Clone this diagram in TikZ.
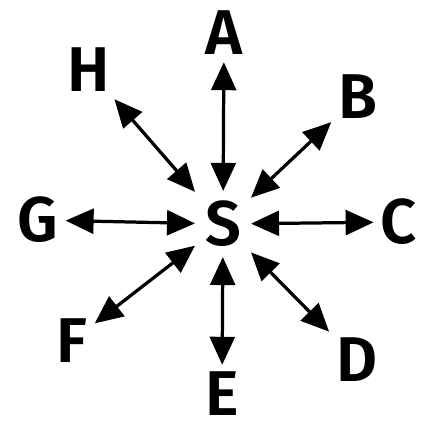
\documentclass[tikz,border=0pt]{standalone}
\usepackage{fontspec}
\setmainfont{Fira Sans}[BoldFont={Fira Sans SemiBold}]
\usetikzlibrary{arrows.meta}
\begin{document}
\begin{tikzpicture}[x=0.025cm,y=-0.025cm,
  font=\fontsize{45}{45}\selectfont\bfseries, inner sep=5pt,
  >={Triangle[length=0.7cm,width=0.62cm]},
  link/.style={line width=2.3pt,<->}]
\useasboundingbox (0,0) rectangle (420,432);
\node[inner sep=7pt] (S) at (223,224) {S};
\node (A) at (224,33) {A};
\node (B) at (358,97) {B};
\node (C) at (399,222) {C};
\node (D) at (357,360) {D};
\node (E) at (222,394) {E};
\node (F) at (72,341) {F};
\node (G) at (38,220) {G};
\node (H) at (89,70) {H};
\draw[link] (A) -- (S);
\draw[link] (B) -- (S);
\draw[link] (C) -- (S);
\draw[link] (D) -- (S);
\draw[link] (E) -- (S);
\draw[link] (F) -- (S);
\draw[link] (G) -- (S);
\draw[link] (H) -- (S);
\end{tikzpicture}
\end{document}
